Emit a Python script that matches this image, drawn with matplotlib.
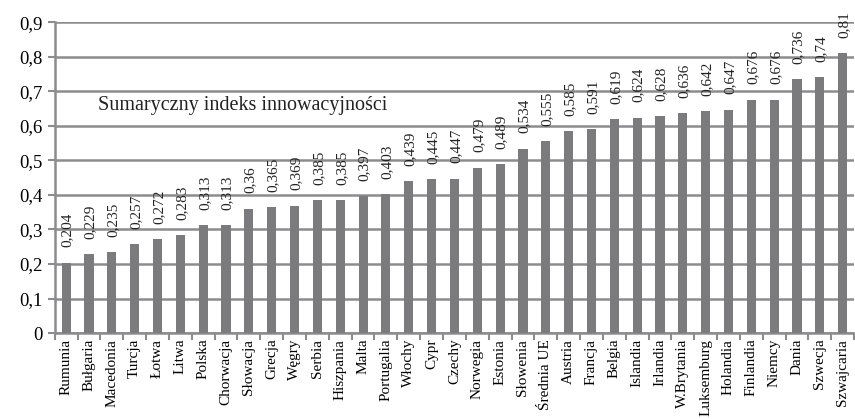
import numpy as np
import matplotlib.pyplot as plt

countries = ['Rumunia', 'Bułgaria', 'Macedonia', 'Turcja', 'Łotwa', 'Litwa', 'Polska',
             'Chorwacja', 'Słowacja', 'Grecja', 'Węgry', 'Serbia', 'Hiszpania', 'Malta',
             'Portugalia', 'Włochy', 'Cypr', 'Czechy', 'Norwegia', 'Estonia', 'Słowenia',
             'Średnia UE', 'Austria', 'Francja', 'Belgia', 'Islandia', 'Irlandia',
             'W.Brytania', 'Luksemburg', 'Holandia', 'Finlandia', 'Niemcy', 'Dania',
             'Szwecja', 'Szwajcaria']
values = [0.204, 0.229, 0.235, 0.257, 0.272, 0.283, 0.313, 0.313, 0.36, 0.365, 0.369,
          0.385, 0.385, 0.397, 0.403, 0.439, 0.445, 0.447, 0.479, 0.489, 0.534, 0.555,
          0.585, 0.591, 0.619, 0.624, 0.628, 0.636, 0.642, 0.647, 0.676, 0.676, 0.736,
          0.74, 0.81]
yticks = [0, 0.1, 0.2, 0.3, 0.4, 0.5, 0.6, 0.7, 0.8, 0.9]

plt.rcParams['font.family'] = ['Liberation Serif', 'DejaVu Serif']

grey = '#8c8c8e'
bar_c = '#7b7b7d'

fig = plt.figure(figsize=(8.55, 4.19), dpi=100)
ax = fig.add_axes([0.064, 0.205, 0.935, 0.742])

x = np.arange(len(countries))
ax.bar(x, values, width=0.4, color=bar_c, zorder=3)

for xi, v in zip(x, values):
    ax.annotate(str(v).replace('.', ','), (xi, v), xytext=(1, 11), textcoords='offset points',
                rotation=90, ha='center', va='bottom', fontsize=11, color='#222222',
                annotation_clip=False)

ax.set_xlim(-0.5, len(countries) - 0.5)
ax.set_ylim(0, 0.9)
ax.set_yticks(yticks)
ax.set_yticklabels(['0'] + [f'{t:.1f}'.replace('.', ',') for t in yticks[1:]], fontsize=13.5)
ax.yaxis.grid(True, color=grey, lw=1.8, zorder=0)

# category ticks sit on the boundaries, labels in the middle
ax.set_xticks(np.arange(len(countries) + 1) - 0.5)
ax.set_xticklabels([])
ax.set_xticks(x, minor=True)
ax.set_xticklabels(countries, minor=True, rotation=90, fontsize=11)
ax.tick_params(axis='x', which='minor', length=0, pad=4)
ax.tick_params(axis='x', which='major', length=5, width=1.5, color=grey, direction='out')
ax.tick_params(axis='y', length=5, width=1.5, color=grey, direction='out', pad=4)

for s in ['top', 'right']:
    ax.spines[s].set_visible(False)
for s in ['left', 'bottom']:
    ax.spines[s].set_color(grey)
    ax.spines[s].set_linewidth(1.8)

ax.text(0.054, 0.66, 'Sumaryczny indeks innowacyjności', transform=ax.get_yaxis_transform(),
        fontsize=14.5, va='center', ha='left', color='#222222')

fig.savefig('out.png', dpi=100, facecolor='white')
